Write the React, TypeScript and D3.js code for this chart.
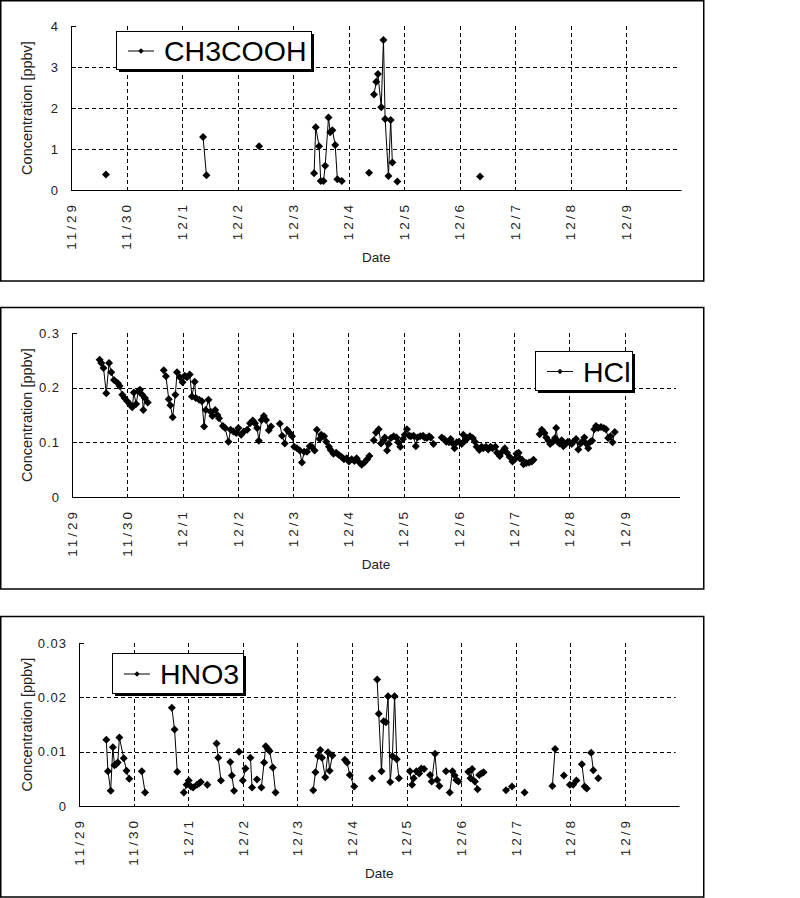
import React from 'react';
import * as d3 from 'd3';

// ---------- shared axis data ----------
const DATE_LABELS = ['11/29', '11/30', '12/1', '12/2', '12/3', '12/4', '12/5', '12/6', '12/7', '12/8', '12/9'];
const DAY_SPAN = 11; // axis runs from 11/29 to 12/10

// ---------- CH3COOH (days since 11/29 00:00, ppbv); null = gap ----------
const CH3COOH_DAY: (number | null)[] = [
  0.63, null,
  2.38, 2.44, null,
  3.39, null,
  4.38, 4.41, 4.47, 4.50, 4.55, 4.58, 4.64, 4.67, 4.71, 4.76, 4.80, 4.88, null,
  5.37, null,
  5.46, 5.50, 5.53, 5.59, 5.63, 5.66, 5.72, 5.76, 5.79, null,
  5.88, null,
  7.37,
];
const CH3COOH_VAL: (number | null)[] = [
  0.38, null,
  1.29, 0.36, null,
  1.07, null,
  0.41, 1.53, 1.07, 0.22, 0.22, 0.59, 1.77, 1.41, 1.46, 1.10, 0.26, 0.22, null,
  0.42, null,
  2.33, 2.64, 2.83, 2.02, 3.66, 1.73, 0.34, 1.71, 0.67, null,
  0.21, null,
  0.33,
];
const CH3COOH_TICKS = [0, 1, 2, 3, 4];
const CH3COOH_TICK_LABELS = ['0', '1', '2', '3', '4'];

// ---------- HCl ----------
const HCL_DAY: (number | null)[] = [
  0.50, 0.53, 0.57, 0.62, 0.67, 0.71, 0.76, 0.83, 0.86, 0.91, 0.95, 1.00, 1.05, 1.09, 1.12, 1.16, 1.20, 1.23, 1.27, 1.29, 1.32, 1.37, null,
  1.66, 1.70, 1.75, 1.78, 1.82, 1.87, 1.90, 1.95, 2.00, 2.04, 2.08, 2.13, 2.17, 2.22, 2.24, 2.30, 2.35, 2.39, 2.42, 2.47, 2.51, 2.54, 2.59, 2.63, 2.66, 2.73, 2.77, 2.83, 2.87, 2.92, 2.97, 3.01, 3.06, 3.11, 3.17, 3.22, 3.27, 3.31, 3.35, 3.38, 3.43, 3.47, 3.51, 3.56, 3.60, null,
  3.76, 3.80, 3.85, 3.89, 3.93, 3.98, 4.02, 4.07, 4.12, 4.16, 4.20, 4.25, 4.30, 4.34, 4.39, 4.43, 4.48, 4.51, 4.56, 4.60, 4.65, 4.68, 4.73, 4.78, 4.83, 4.88, 4.92, 4.97, 5.01, 5.06, 5.11, 5.15, 5.20, 5.24, 5.29, 5.34, 5.38, null,
  5.46, 5.50, 5.55, 5.59, 5.64, 5.66, 5.70, 5.73, 5.77, 5.82, 5.87, 5.90, 5.94, 5.99, 6.02, 6.06, 6.10, 6.13, 6.18, 6.22, 6.25, 6.30, 6.35, 6.38, 6.42, 6.46, 6.49, 6.54, null,
  6.69, 6.73, 6.77, 6.82, 6.85, 6.89, 6.92, 6.96, 7.00, 7.05, 7.08, 7.12, 7.15, 7.20, 7.25, 7.29, 7.32, 7.37, 7.41, 7.44, 7.49, 7.53, 7.57, 7.61, 7.66, 7.69, 7.74, 7.78, 7.83, 7.87, 7.92, 7.97, 8.01, 8.04, 8.08, 8.10, 8.14, 8.17, 8.22, 8.27, 8.32, 8.35, null,
  8.46, 8.50, 8.55, 8.58, 8.62, 8.65, 8.70, 8.74, 8.76, 8.79, 8.82, 8.86, 8.89, 8.93, 8.97, 9.00, 9.04, 9.07, 9.12, 9.16, 9.20, 9.23, 9.27, 9.30, 9.34, 9.38, 9.41, 9.45, 9.48, 9.52, 9.57, 9.62, 9.66, 9.70, 9.74, 9.78, 9.82,
];
const HCL_VAL: (number | null)[] = [
  0.251, 0.245, 0.236, 0.190, 0.245, 0.228, 0.214, 0.208, 0.203, 0.187, 0.181, 0.175, 0.169, 0.164, 0.191, 0.170, 0.194, 0.196, 0.187, 0.159, 0.181, 0.173, null,
  0.232, 0.221, 0.179, 0.168, 0.146, 0.187, 0.228, 0.219, 0.210, 0.222, 0.219, 0.224, 0.184, 0.211, 0.181, 0.178, 0.175, 0.129, 0.159, 0.178, 0.156, 0.148, 0.159, 0.150, 0.144, 0.130, 0.126, 0.101, 0.123, 0.120, 0.117, 0.126, 0.114, 0.120, 0.123, 0.135, 0.140, 0.135, 0.126, 0.103, 0.141, 0.148, 0.141, 0.122, 0.129, null,
  0.134, 0.112, 0.098, 0.123, 0.118, 0.111, 0.092, 0.089, 0.085, 0.063, 0.083, 0.083, 0.093, 0.092, 0.085, 0.123, 0.106, 0.114, 0.111, 0.101, 0.092, 0.086, 0.079, 0.081, 0.077, 0.073, 0.069, 0.071, 0.065, 0.069, 0.066, 0.071, 0.063, 0.059, 0.063, 0.069, 0.075, null,
  0.104, 0.118, 0.124, 0.098, 0.104, 0.109, 0.085, 0.097, 0.108, 0.111, 0.109, 0.100, 0.092, 0.106, 0.114, 0.124, 0.112, 0.111, 0.112, 0.093, 0.109, 0.111, 0.112, 0.109, 0.108, 0.111, 0.109, 0.097, null,
  0.109, 0.106, 0.101, 0.100, 0.106, 0.098, 0.089, 0.100, 0.101, 0.097, 0.114, 0.104, 0.108, 0.111, 0.108, 0.101, 0.092, 0.086, 0.092, 0.089, 0.092, 0.087, 0.092, 0.089, 0.092, 0.081, 0.075, 0.083, 0.089, 0.081, 0.073, 0.065, 0.069, 0.079, 0.081, 0.071, 0.068, 0.060, 0.062, 0.063, 0.065, 0.068, null,
  0.115, 0.123, 0.117, 0.109, 0.103, 0.097, 0.101, 0.108, 0.126, 0.101, 0.098, 0.104, 0.093, 0.097, 0.101, 0.100, 0.097, 0.101, 0.106, 0.087, 0.098, 0.101, 0.109, 0.098, 0.089, 0.101, 0.103, 0.124, 0.130, 0.126, 0.128, 0.126, 0.124, 0.108, 0.111, 0.100, 0.119,
];
const HCL_TICKS = [0, 0.1, 0.2, 0.3];
const HCL_TICK_LABELS = ['0', '0.1', '0.2', '0.3'];

// ---------- HNO3 ----------
const HNO3_DAY: (number | null)[] = [
  0.50, 0.53, 0.58, 0.62, 0.65, 0.68, 0.71, 0.74, 0.82, 0.87, 0.92, null,
  1.15, 1.21, null,
  1.70, 1.75, 1.80, null,
  1.92, 1.97, 2.01, 2.05, 2.09, 2.16, 2.20, 2.23, null,
  2.35, null,
  2.52, 2.55, 2.60, null,
  2.77, 2.80, 2.84, null,
  2.93, null,
  3.00, 3.05, null,
  3.14, 3.17, null,
  3.26, null,
  3.34, 3.39, 3.42, 3.46, 3.49, 3.55, 3.60, null,
  4.29, 4.33, 4.38, 4.42, 4.45, 4.51, 4.56, 4.59, 4.64, null,
  4.87, 4.91, 4.96, 5.04, null,
  5.37, null,
  5.46, 5.49, 5.54, 5.58, 5.62, 5.66, 5.70, 5.74, 5.78, 5.82, 5.86, null,
  6.06, 6.10, 6.13, 6.18, 6.23, 6.27, 6.32, null,
  6.43, 6.46, 6.52, 6.56, 6.60, null,
  6.72, null,
  6.79, 6.84, 6.88, 6.91, 6.95, null,
  7.13, 7.17, 7.20, 7.25, 7.30, null,
  7.33, 7.37, 7.41, null,
  7.82, 7.93, null,
  8.16, null,
  8.67, 8.72, null,
  8.88, null,
  8.99, 9.05, 9.11, null,
  9.21, 9.26, 9.30, null,
  9.38, 9.42, null,
  9.51,
];
const HNO3_VAL: (number | null)[] = [
  0.0122, 0.0064, 0.0028, 0.0108, 0.0075, 0.0077, 0.0080, 0.0126, 0.0088, 0.0065, 0.0050, null,
  0.0064, 0.0025, null,
  0.0181, 0.0141, 0.0063, null,
  0.0025, 0.0039, 0.0047, 0.0036, 0.0034, 0.0039, 0.0042, 0.0044, null,
  0.0039, null,
  0.0115, 0.0089, 0.0047, null,
  0.0081, 0.0056, 0.0028, null,
  0.0100, null,
  0.0047, 0.0069, null,
  0.0089, 0.0034, null,
  0.0049, null,
  0.0034, 0.0080, 0.0110, 0.0105, 0.0101, 0.0071, 0.0025, null,
  0.0029, 0.0062, 0.0092, 0.0103, 0.0089, 0.0053, 0.0099, 0.0065, 0.0093, null,
  0.0085, 0.0080, 0.0057, 0.0036, null,
  0.0051, null,
  0.0233, 0.0170, 0.0064, 0.0156, 0.0154, 0.0202, 0.0044, 0.0092, 0.0202, 0.0086, 0.0051, null,
  0.0064, 0.0039, 0.0051, 0.0064, 0.0060, 0.0069, 0.0068, null,
  0.0057, 0.0045, 0.0096, 0.0048, 0.0037, null,
  0.0064, null,
  0.0025, 0.0064, 0.0056, 0.0048, 0.0045, null,
  0.0063, 0.0051, 0.0068, 0.0045, 0.0031, null,
  0.0057, 0.0060, 0.0062, null,
  0.0029, 0.0036, null,
  0.0025, null,
  0.0037, 0.0105, null,
  0.0056, null,
  0.0039, 0.0039, 0.0047, null,
  0.0077, 0.0036, 0.0032, null,
  0.0098, 0.0066, null,
  0.0051,
];
const HNO3_TICKS = [0, 0.01, 0.02, 0.03];
const HNO3_TICK_LABELS = ['0', '0.01', '0.02', '0.03'];

const FONT = '"Liberation Sans", Arial, sans-serif';
const diamond = d3.symbol(d3.symbolSquare, 32)() as string;
const smallDiamond = d3.symbol(d3.symbolSquare, 14)() as string;

type PanelProps = {
  frameTop: number;
  frameBottom: number;
  left: number;
  right: number;
  top: number;
  bottom: number;
  days: (number | null)[];
  vals: (number | null)[];
  ticks: number[];
  tickLabels: string[];
  legendText: string;
  legendBox: [number, number, number, number];
};

function Panel(p: PanelProps) {
  const x = d3.scaleLinear().domain([0, DAY_SPAN]).range([p.left, p.right]);
  const yMax = p.ticks[p.ticks.length - 1];
  const y = d3.scaleLinear().domain([0, yMax]).range([p.bottom, p.top]);
  const pts = p.days.map((d, i) => ({ d, v: p.vals[i] }));
  const line = d3
    .line<{ d: number | null; v: number | null }>()
    .defined((q) => q.d !== null && q.v !== null)
    .x((q) => x(q.d as number))
    .y((q) => y(q.v as number));
  const valid = pts.filter((q) => q.d !== null && q.v !== null);
  const [lx, ly, lw, lh] = p.legendBox;
  const midY = (p.top + p.bottom) / 2;
  const midX = (p.left + p.right) / 2;
  return (
    <g>
      <rect x={0.75} y={p.frameTop} width={703} height={p.frameBottom - p.frameTop} fill="#fff" stroke="#000" strokeWidth={1.5} />
      {/* horizontal gridlines */}
      {p.ticks.slice(1, -1).map((t) => (
        <line key={'h' + t} x1={p.left} x2={p.right - 4} y1={Math.round(y(t)) + 0.5} y2={Math.round(y(t)) + 0.5} stroke="#000" strokeDasharray="4 3" />
      ))}
      {/* vertical gridlines */}
      {DATE_LABELS.slice(1).map((_, i) => (
        <line key={'v' + i} x1={Math.round(x(i + 1)) + 0.5} x2={Math.round(x(i + 1)) + 0.5} y1={p.top} y2={p.bottom} stroke="#000" strokeDasharray="4 3" />
      ))}
      {/* axes */}
      <line x1={p.left + 0.5} x2={p.left + 0.5} y1={p.top} y2={p.bottom} stroke="#000" />
      <line x1={p.left} x2={p.right} y1={p.bottom + 0.5} y2={p.bottom + 0.5} stroke="#000" />
      {p.ticks.map((t, i) => (
        <g key={'yt' + t}>
          <line x1={p.left} x2={p.left + 5} y1={Math.round(y(t)) + 0.5} y2={Math.round(y(t)) + 0.5} stroke="#000" />
          <text x={p.left - 12} y={y(t)} dy="0.36em" textAnchor="end" fontSize={13} fontFamily={FONT} letterSpacing={1} fill="#222">
            {p.tickLabels[i]}
          </text>
        </g>
      ))}
      {DATE_LABELS.map((lab, i) => {
        const tx = x(i);
        const ty = p.bottom + 12;
        return (
          <text key={'xl' + i} x={tx} y={ty} dy="0.36em" textAnchor="end" transform={`rotate(-90,${tx},${ty})`} fontSize={13.5} letterSpacing={3} fontFamily={FONT} fill="#222">
            {lab}
          </text>
        );
      })}
      <text x={32} y={midY} transform={`rotate(-90,32,${midY})`} textAnchor="middle" fontSize={14.5} fontFamily={FONT} fill="#222">
        Concentration [ppbv]
      </text>
      <text x={midX} y={p.bottom + 72} textAnchor="middle" fontSize={13.5} fontFamily={FONT} fill="#222">
        Date
      </text>
      {/* data */}
      <path d={line(pts) || ''} fill="none" stroke="#000" strokeWidth={1} />
      {valid.map((q, i) => (
        <path key={'m' + i} d={diamond} transform={`translate(${x(q.d as number)},${y(q.v as number)}) rotate(45)`} fill="#000" />
      ))}
      {/* legend */}
      <rect x={lx + 3} y={ly + 3} width={lw} height={lh} fill="#000" />
      <rect x={lx + 0.5} y={ly + 0.5} width={lw} height={lh} fill="#fff" stroke="#000" />
      <line x1={lx + 12} x2={lx + 38} y1={ly + lh / 2 + 1} y2={ly + lh / 2 + 1} stroke="#000" />
      <path d={smallDiamond} transform={`translate(${lx + 25},${ly + lh / 2 + 1}) rotate(45)`} fill="#000" />
      <text x={lx + 48} y={ly + lh / 2 + 11} fontSize={28.5} fontFamily={FONT} fill="#000">
        {p.legendText}
      </text>
    </g>
  );
}

export default function App() {
  return (
    <svg width={800} height={898} style={{ position: 'absolute', left: 0, top: 0, background: '#fff' }}>
      <rect width={800} height={898} fill="#fff" />
      <Panel
        frameTop={0.75}
        frameBottom={281}
        left={71}
        right={681.5}
        top={26}
        bottom={190}
        days={CH3COOH_DAY}
        vals={CH3COOH_VAL}
        ticks={CH3COOH_TICKS}
        tickLabels={CH3COOH_TICK_LABELS}
        legendText="CH3COOH"
        legendBox={[116, 31, 195, 38]}
      />
      <Panel
        frameTop={307.5}
        frameBottom={589}
        left={72}
        right={680}
        top={333}
        bottom={497}
        days={HCL_DAY}
        vals={HCL_VAL}
        ticks={HCL_TICKS}
        tickLabels={HCL_TICK_LABELS}
        legendText="HCl"
        legendBox={[535, 351, 97, 39]}
      />
      <Panel
        frameTop={616.5}
        frameBottom={897}
        left={79}
        right={679.6}
        top={643}
        bottom={806}
        days={HNO3_DAY}
        vals={HNO3_VAL}
        ticks={HNO3_TICKS}
        tickLabels={HNO3_TICK_LABELS}
        legendText="HNO3"
        legendBox={[112, 653, 131, 40]}
      />
    </svg>
  );
}
